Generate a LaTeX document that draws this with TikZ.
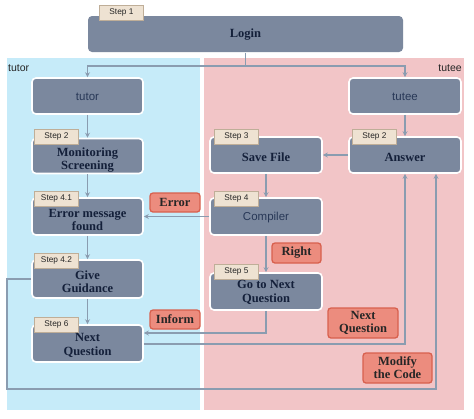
\documentclass[tikz,border=0pt]{standalone}
\usepackage{fontspec}
\setmainfont{Liberation Serif}
\setsansfont{Liberation Sans}
\usetikzlibrary{arrows.meta,positioning,calc}
\definecolor{boxfill}{HTML}{7B889E}
\definecolor{boxtext}{HTML}{14203A}
\definecolor{sanstext}{HTML}{283857}
\definecolor{panelblue}{HTML}{C6EBF9}
\definecolor{panelpink}{HTML}{F2C5C7}
\definecolor{tabfill}{HTML}{EEE2D2}
\definecolor{tabline}{HTML}{BFAE98}
\definecolor{lblfill}{HTML}{EC8C7E}
\definecolor{lblline}{HTML}{D8604E}
\definecolor{conn}{HTML}{8A9CB0}
\tikzset{
  box/.style={rectangle, rounded corners=4pt, fill=boxfill, draw=white, line width=1.6pt,
    minimum width=111pt, inner sep=0pt},
  boxtxt/.style={text=boxtext, align=center, inner sep=0pt,
    font=\fontsize{12.5}{13.5}\selectfont\bfseries},
  sanstxt/.style={text=sanstext, inner sep=0pt, font=\fontsize{11.5}{13}\sffamily},
  steptab/.style={rectangle, fill=tabfill, draw=tabline, line width=0.5pt, anchor=north west,
    minimum width=44pt, minimum height=15pt, inner sep=0pt,
    font=\fontsize{8.3}{9}\sffamily, text=black!85},
  lbl/.style={rectangle, rounded corners=3pt, fill=lblfill, draw=lblline, line width=1.3pt,
    align=center, text=black!85, inner sep=1pt,
    font=\fontsize{12.5}{13}\selectfont\bfseries},
  arr/.style={draw=conn, line width=1.5pt, -{Stealth[length=5pt,width=5pt]}},
  ln/.style={draw=conn, line width=1.5pt},
  panellbl/.style={font=\fontsize{10.5}{11}\sffamily, text=black!85, inner sep=0pt}
}
\begin{document}
\begin{tikzpicture}[x=1pt,y=-1pt]
\useasboundingbox (0,0) rectangle (474,418);
\fill[white] (0,0) rectangle (474,418);
% panels
\fill[panelblue] (7,58) rectangle (200,410);
\fill[panelpink] (204,58) rectangle (464,410);
\node[panellbl, anchor=west] (tutorlbl) at (8,68) {tutor};
\node[panellbl, anchor=east] (tuteelbl) at (462,68) {tutee};
% boxes
\node[box, minimum width=315pt, minimum height=36pt, draw=none] (login) at (245.5,34) {};
\node[box, minimum height=36pt] (tutor) at (87.5,96) {};
\node[box, minimum height=36pt, minimum width=112pt] (tutee) at (405,96) {};
\node[box, minimum height=35pt] (mon) at (87.5,156) {};
\node[box, minimum height=37pt] (err) at (87.5,216.5) {};
\node[box, minimum height=38pt] (give) at (87.5,279) {};
\node[box, minimum height=37pt] (nextq) at (87.5,343.5) {};
\node[box, minimum height=36pt, minimum width=112pt] (save) at (266,155) {};
\node[box, minimum height=36pt, minimum width=112pt] (answer) at (405,155) {};
\node[box, minimum height=37pt, minimum width=112pt] (comp) at (266,216.5) {};
\node[box, minimum height=37pt, minimum width=112pt] (goto) at (266,291.5) {};
% step tabs
\node[steptab] (s1) at ([xshift=12pt,yshift=10pt]login.north west) {Step 1};
\node[steptab] (s2a) at ([xshift=3pt,yshift=9pt]mon.north west) {Step 2};
\node[steptab] (s41) at ([xshift=3pt,yshift=6pt]err.north west) {Step 4.1};
\node[steptab] (s42) at ([xshift=3pt,yshift=6pt]give.north west) {Step 4.2};
\node[steptab] (s6) at ([xshift=3pt,yshift=7pt]nextq.north west) {Step 6};
\node[steptab] (s3) at ([xshift=5pt,yshift=7pt]save.north west) {Step 3};
\node[steptab] (s2b) at ([xshift=4pt,yshift=7pt]answer.north west) {Step 2};
\node[steptab] (s4) at ([xshift=5pt,yshift=6pt]comp.north west) {Step 4};
\node[steptab] (s5) at ([xshift=5pt,yshift=8pt]goto.north west) {Step 5};
% box texts
\node[boxtxt] (login-t) at ([yshift=-1pt]login.center) {Login};
\node[sanstxt] (tutor-t) at ([yshift=-1pt]tutor.center) {tutor};
\node[sanstxt] (tutee-t) at ([yshift=-1pt]tutee.center) {tutee};
\node[boxtxt] (mon-t) at ([yshift=-4pt]mon.center) {Monitoring\\Screening};
\node[boxtxt] (err-t) at ([yshift=-3.5pt]err.center) {Error message\\found};
\node[boxtxt] (give-t) at ([yshift=-2.5pt]give.center) {Give\\Guidance};
\node[boxtxt] (nextq-t) at ([yshift=-2pt]nextq.center) {Next\\Question};
\node[boxtxt] (save-t) at ([yshift=-2pt]save.center) {Save File};
\node[boxtxt] (answer-t) at ([yshift=-2pt]answer.center) {Answer};
\node[sanstxt] (comp-t) at ([yshift=-1pt]comp.center) {Compiler};
\node[boxtxt] (goto-t) at ([yshift=-1pt]goto.center) {Go to Next\\Question};
% connectors
\draw[ln] (login.south) -- ++(0,13) coordinate (j);
\draw[arr] (j) -| (tutor.north);
\draw[arr] (j) -| (tutee.north);
\draw[arr] (tutor.south) -- (mon.north);
\draw[arr] (mon.south) -- (err.north);
\draw[arr] (err.south) -- (give.north);
\draw[arr] (give.south) -- (nextq.north);
\draw[arr] (tutee.south) -- (answer.north);
\draw[arr] (answer.west) -- (save.east);
\draw[arr] (save.south) -- (comp.north);
\draw[arr] (comp.west) -- (err.east);
\draw[arr] (comp.south) -- (goto.north);
\draw[arr] (goto.south) |- ([yshift=10.5pt]nextq.east);
\draw[arr] ([yshift=-0.5pt]nextq.east) -| (answer.south);
\coordinate (mc) at (436,389);
\draw[arr] (give.west) -- ++(-24,0) |- (mc) -- (mc |- answer.south);
% labels
\node[lbl, minimum width=50pt, minimum height=19pt] (lerr) at (175,202.5) {Error};
\node[lbl, minimum width=49pt, minimum height=20pt] (lright) at (296.5,253) {Right};
\node[lbl, minimum width=50pt, minimum height=19pt] (linform) at (175,319.5) {Inform};
\node[lbl, minimum width=70pt, minimum height=30pt] (lnext) at (363,323) {Next\\Question};
\node[lbl, minimum width=69pt, minimum height=30pt] (lmod) at (397.5,368) {Modify\\the Code};
\end{tikzpicture}
\end{document}
